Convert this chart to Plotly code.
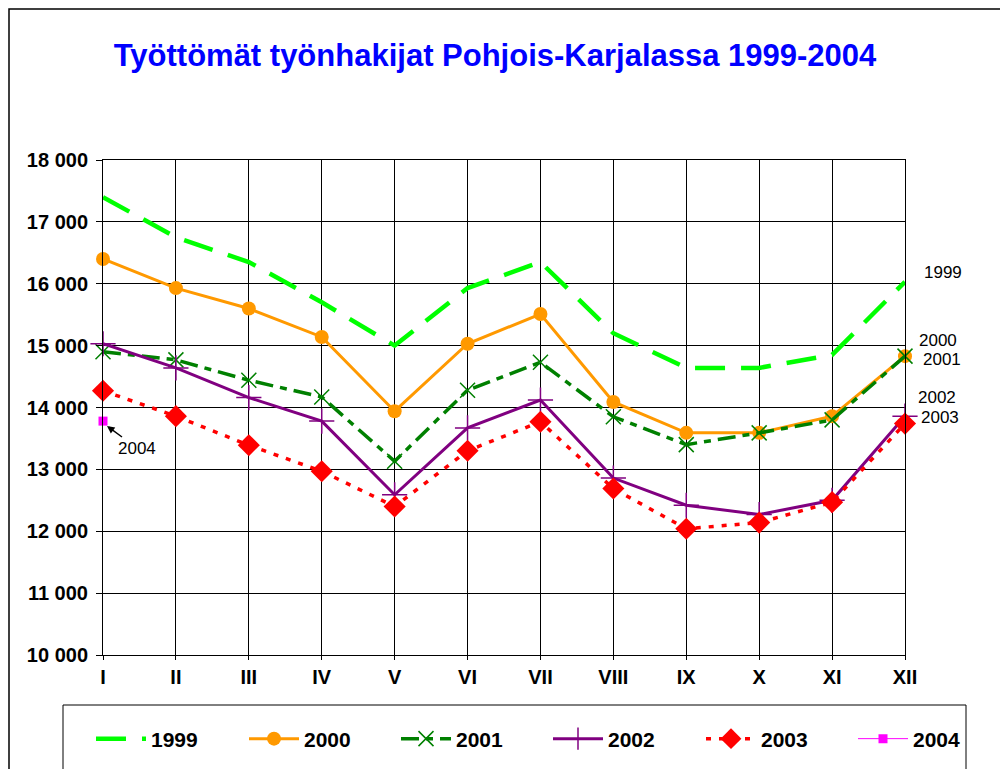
import plotly.graph_objects as go

months = ["I", "II", "III", "IV", "V", "VI", "VII", "VIII", "IX", "X", "XI", "XII"]
y1999 = [17400, 16750, 16350, 15700, 15000, 15930, 16350, 15200, 14640, 14640, 14850, 16030]
y2000 = [16400, 15930, 15600, 15140, 13940, 15030, 15510, 14090, 13590, 13590, 13860, 14830]
y2001 = [14900, 14770, 14440, 14170, 13130, 14280, 14730, 13850, 13400, 13590, 13800, 14830]
y2002 = [15030, 14640, 14160, 13780, 12590, 13670, 14120, 12860, 12420, 12270, 12500, 13860]
y2003 = [14270, 13860, 13390, 12970, 12400, 13300, 13770, 12690, 12040, 12140, 12470, 13740]
y2004 = [13780]
yticks = [10000, 11000, 12000, 13000, 14000, 15000, 16000, 17000, 18000]
ytick_labels = ["10 000", "11 000", "12 000", "13 000", "14 000", "15 000", "16 000", "17 000", "18 000"]

OFF = 8  # page body margin
W, H = 1008, 769
PW, PH = 802, 495
L, T = 103 - OFF, 160 - OFF
R, B = W - L - PW, H - T - PH
FONT = "Arial, Liberation Sans"


def px(x):
    return (x - OFF - L) / PW


def py(y):
    return (T + PH - (y - OFF)) / PH


fig = go.Figure()
fig.add_trace(go.Scatter(x=months, y=y1999, name="1999", mode="lines", legend="legend",
                         line=dict(color="#00FF00", width=4.5, dash="30px,16px")))
fig.add_trace(go.Scatter(x=months, y=y2000, name="2000", mode="lines+markers", legend="legend2",
                         line=dict(color="#FF9900", width=3),
                         marker=dict(symbol="circle", size=14, color="#FF9900")))
fig.add_trace(go.Scatter(x=months, y=y2001, name="2001", mode="lines+markers", legend="legend3",
                         line=dict(color="#008000", width=3.5, dash="18px,7px,7px,7px"),
                         marker=dict(symbol="x-thin", size=15, line=dict(color="#008000", width=1.5))))
fig.add_trace(go.Scatter(x=months, y=y2002, name="2002", mode="lines+markers", legend="legend4",
                         line=dict(color="#800080", width=3),
                         marker=dict(symbol="cross-thin", size=18, line=dict(color="#800080", width=1.5))))
fig.add_trace(go.Scatter(x=months, y=y2003, name="2003", mode="lines+markers", legend="legend5",
                         line=dict(color="#FF0000", width=3.5, dash="5px,8px"),
                         marker=dict(symbol="diamond", size=17, color="#FF0000")))
fig.add_trace(go.Scatter(x=months[:1], y=y2004, name="2004", mode="lines+markers", legend="legend6",
                         line=dict(color="#FF00FF", width=1),
                         marker=dict(symbol="square", size=9, color="#FF00FF")))
fig.update_traces(cliponaxis=False)

text_starts = [152, 305, 457, 609, 762, 914]
legend_cfg = {}
for i, xs in enumerate(text_starts):
    key = "legend" if i == 0 else f"legend{i + 1}"
    legend_cfg[key] = dict(orientation="h", x=px(xs - 61), xanchor="left", y=py(739), yanchor="middle",
                           itemwidth=50,
                           font=dict(size=21, family=FONT, color="black", weight="bold"),
                           bgcolor="rgba(0,0,0,0)", borderwidth=0)

fig.update_layout(
    width=W, height=H,
    margin=dict(l=L, r=R, t=T, b=B, autoexpand=False),
    paper_bgcolor="white", plot_bgcolor="white",
    font=dict(family=FONT, color="black"),
    title=dict(text="<b>Työttömät työnhakijat Pohjois-Karjalassa 1999-2004</b>",
               x=(495 - OFF) / W, xanchor="center", y=1 - (55 - OFF) / H, yanchor="middle",
               font=dict(size=31, color="#0000FF", family=FONT)),
    showlegend=True,
    **legend_cfg,
)
fig.update_xaxes(range=[0, 11], showgrid=True, gridcolor="black", gridwidth=1,
                 showline=True, linecolor="black", linewidth=1, mirror=True,
                 ticks="outside", ticklen=4, tickcolor="black",
                 tickfont=dict(size=20, family=FONT, color="black", weight="bold"),
                 fixedrange=True)
fig.update_yaxes(range=[10000, 18000], tickvals=yticks, ticktext=ytick_labels,
                 showgrid=True, gridcolor="black", gridwidth=1, zeroline=False,
                 showline=True, linecolor="black", linewidth=1, mirror=True,
                 ticks="outside", ticklen=6, tickcolor="black", ticklabelstandoff=4,
                 tickfont=dict(size=20, family=FONT, color="black", weight="bold"),
                 fixedrange=True)

# outer chart frame and legend box
fig.add_shape(type="rect", xref="paper", yref="paper", x0=px(9), x1=px(1030), y0=py(800), y1=py(9),
              line=dict(color="black", width=1.5), layer="below")
fig.add_shape(type="rect", xref="paper", yref="paper", x0=px(63), x1=px(966), y0=py(800), y1=py(705),
              line=dict(color="black", width=1), layer="below")

labels = [("1999", 943, 272), ("2000", 938, 340), ("2001", 942, 359), ("2002", 937, 397), ("2003", 940, 417)]
for t, x, y in labels:
    fig.add_annotation(text=t, xref="paper", yref="paper", x=px(x), y=py(y), showarrow=False,
                       xanchor="center", yanchor="middle",
                       font=dict(size=17, family=FONT, color="black"))
fig.add_annotation(text="2004", xref="paper", yref="paper", x=px(107), y=py(426),
                   ax=30, ay=22, axref="pixel", ayref="pixel",
                   showarrow=True, arrowhead=2, arrowsize=1, arrowwidth=1.5, arrowcolor="black",
                   standoff=0, startstandoff=0,
                   font=dict(size=17, family=FONT, color="black"))

fig.write_html("out.html")
